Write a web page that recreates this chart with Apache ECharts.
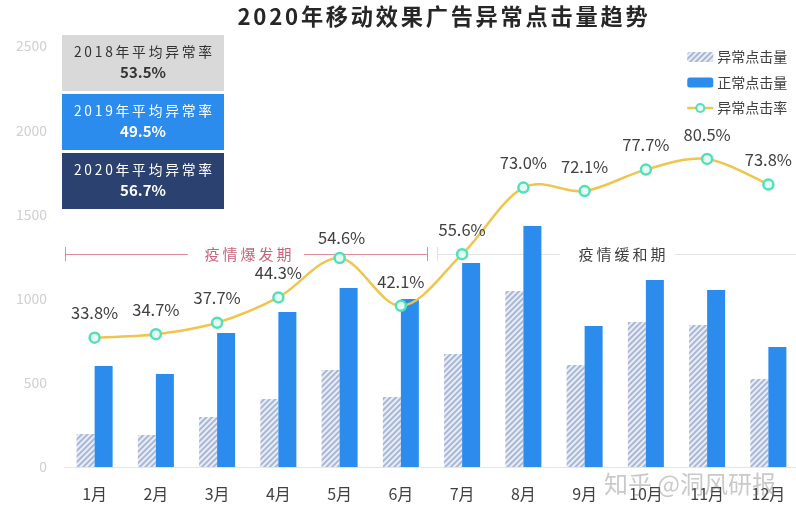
<!DOCTYPE html>
<html>
<head>
<meta charset="utf-8">
<style>
  html, body { margin: 0; padding: 0; background: #fff; }
  #main { width: 796px; height: 517px; }
</style>
<script src="https://cdn.jsdelivr.net/npm/echarts@6/dist/echarts.min.js"></script>
</head>
<body>
<div id="main"></div>
<script>
var months = ['1月', '2月', '3月', '4月', '5月', '6月', '7月', '8月', '9月', '10月', '11月', '12月'];
var abnormal = [196, 190, 297, 404, 576, 416, 671, 1045, 605, 861, 843, 522];
var normal = [600, 552, 796, 920, 1063, 998, 1211, 1431, 837, 1110, 1051, 712];
var rate = [33.8, 34.7, 37.7, 44.3, 54.6, 42.1, 55.6, 73.0, 72.1, 77.7, 80.5, 73.8];
var yearLabels = ['2018年平均异常率', '2019年平均异常率', '2020年平均异常率'];
var yearRates = ['53.5%', '49.5%', '56.7%'];
var yearColors = ['#d9d9d9', '#2b8ced', '#2b4170'];
var yearText = ['#333333', '#ffffff', '#ffffff'];

var FONT = '"Noto Sans CJK SC", "Noto Sans", sans-serif';
var YELLOW = '#eec54e';

// 字间距：echarts 文本没有 letterSpacing，用细空格代替
function spaced(s, sep) {
  return s.split('').join(sep);
}
var THIN = '\u2009';
var HAIR = '\u200a';

var chart = echarts.init(document.getElementById('main'));

// 左上角三个年度方块
var boxes = [];
var boxTop = [35, 94, 153];
yearLabels.forEach(function (name, i) {
  boxes.push({
    type: 'rect',
    shape: { x: 62, y: boxTop[i], width: 162, height: 56 },
    style: { fill: yearColors[i] }
  });
  boxes.push({
    type: 'text',
    x: 143, y: boxTop[i] + 17,
    style: { text: spaced(name, THIN), font: '13.8px ' + FONT, fill: yearText[i], align: 'center', verticalAlign: 'middle' }
  });
  boxes.push({
    type: 'text',
    x: 143, y: boxTop[i] + 37,
    style: { text: yearRates[i], font: 'bold 15px ' + FONT, fill: yearText[i], align: 'center', verticalAlign: 'middle' }
  });
});

function hline(x1, x2, y, color) {
  return { type: 'line', shape: { x1: x1, y1: y, x2: x2, y2: y }, style: { stroke: color, lineWidth: 1 } };
}
function vtick(x, y, color) {
  return { type: 'line', shape: { x1: x, y1: y - 7, x2: x, y2: y + 7 }, style: { stroke: color, lineWidth: 1 } };
}

var PINK = '#e08a9c';
var GREY = '#e2e2e2';
var periods = [
  hline(65, 188, 254.5, PINK), vtick(65.5, 254, PINK),
  hline(304, 427, 254.5, PINK), vtick(427.5, 254, PINK),
  { type: 'text', x: 248, y: 254, style: { text: spaced('疫情爆发期', THIN), font: '15px ' + FONT, fill: '#c9637a', align: 'center', verticalAlign: 'middle' } },
  hline(437, 560, 254.5, GREY), vtick(437.5, 254, GREY),
  hline(675, 796, 254.5, GREY),
  { type: 'text', x: 622, y: 254, style: { text: spaced('疫情缓和期', THIN), font: '15px ' + FONT, fill: '#404040', align: 'center', verticalAlign: 'middle' } }
];

var watermark = {
  type: 'text', x: 690, y: 484, z: 20,
  style: { text: '知乎 @洞风研报', font: '24px ' + FONT, fill: 'rgba(120,120,120,0.4)', align: 'center', verticalAlign: 'middle' }
};

// 原图曲线在峰值处会冲过数据点，line 的 smooth 会被钳制，这里自己画
function renderCurve(params, api) {
  var i = api.value(0);
  if (i >= rate.length - 1) return null;
  var p0 = api.coord([Math.max(i - 1, 0), rate[Math.max(i - 1, 0)]]);
  var p1 = api.coord([i, rate[i]]);
  var p2 = api.coord([i + 1, rate[i + 1]]);
  var p3 = api.coord([Math.min(i + 2, rate.length - 1), rate[Math.min(i + 2, rate.length - 1)]]);
  return {
    type: 'bezierCurve',
    shape: {
      x1: p1[0], y1: p1[1],
      cpx1: p1[0] + (p2[0] - p0[0]) / 6, cpy1: p1[1] + (p2[1] - p0[1]) / 6,
      cpx2: p2[0] - (p3[0] - p1[0]) / 6, cpy2: p2[1] - (p3[1] - p1[1]) / 6,
      x2: p2[0], y2: p2[1]
    },
    style: { fill: null, stroke: YELLOW, lineWidth: 2.5 }
  };
}

var option = {
  backgroundColor: '#fff',
  animation: false,
  textStyle: { fontFamily: FONT },
  title: {
    text: spaced('2020年移动效果广告异常点击量趋势', HAIR + HAIR),
    left: 437.5, top: 0, textAlign: 'center',
    textStyle: { fontSize: 22.2, fontWeight: 'bold', color: '#262626', fontFamily: FONT }
  },
  legend: {
    orient: 'vertical',
    left: 681, top: 45,
    itemWidth: 26, itemHeight: 10, itemGap: 11.5,
    textStyle: { fontSize: 14, color: '#404040', padding: [0, 0, 0, -1] },
    data: [
      { name: '异常点击量' },
      { name: '正常点击量' },
      { name: '异常点击率', lineStyle: { opacity: 1, color: YELLOW, width: 2.5 } }
    ]
  },
  grid: { left: 64, top: 46, width: 735, height: 421, outerBoundsMode: 'none' },
  xAxis: {
    type: 'category',
    data: months,
    axisTick: { show: false },
    axisLine: { lineStyle: { color: '#e5e5e5' } },
    axisLabel: { fontSize: 16, color: '#404040', margin: 19 }
  },
  yAxis: [
    {
      type: 'value', min: 0, max: 2500, interval: 500,
      axisLine: { show: false }, axisTick: { show: false }, splitLine: { show: false },
      axisLabel: { fontSize: 14, color: '#d0d0d0', margin: 17, formatter: function (v) { return String(v); } }
    },
    { type: 'value', min: 0, max: 110, show: false, splitLine: { show: false } }
  ],
  series: [
    {
      name: '异常点击量', type: 'bar', barWidth: 18, barGap: 0,
      data: abnormal,
      itemStyle: {
        color: '#e9edf6',
        decal: { symbol: 'rect', symbolSize: 1, color: '#a9b7d6', dashArrayX: [1, 0], dashArrayY: [2, 2], rotation: -Math.PI / 4 }
      }
    },
    {
      name: '正常点击量', type: 'bar', barWidth: 18,
      data: normal,
      itemStyle: { color: '#2b8ced' }
    },
    {
      type: 'custom', yAxisIndex: 1, z: 4, clip: false,
      renderItem: renderCurve,
      data: rate.map(function (v, i) { return [i, v]; }),
      encode: { x: 0, y: 1 },
      silent: true
    },
    {
      name: '异常点击率', type: 'line', yAxisIndex: 1,
      data: rate,
      symbol: 'circle', symbolSize: 10,
      lineStyle: { opacity: 0 },
      itemStyle: { color: '#e6faf4', borderColor: '#52e0b8', borderWidth: 2.5 },
      label: {
        show: true, position: 'top', distance: 10,
        fontSize: 16.5, color: '#404040',
        formatter: function (p) { return p.value.toFixed(1) + '%'; }
      },
      labelLayout: function (p) {
        // 5月的标签在原图里离点更近
        return p.dataIndex === 4 ? { dx: 2, dy: 4 } : {};
      },
      z: 5
    }
  ],
  graphic: boxes.concat(periods, [watermark])
};

chart.setOption(option);
</script>
</body>
</html>
